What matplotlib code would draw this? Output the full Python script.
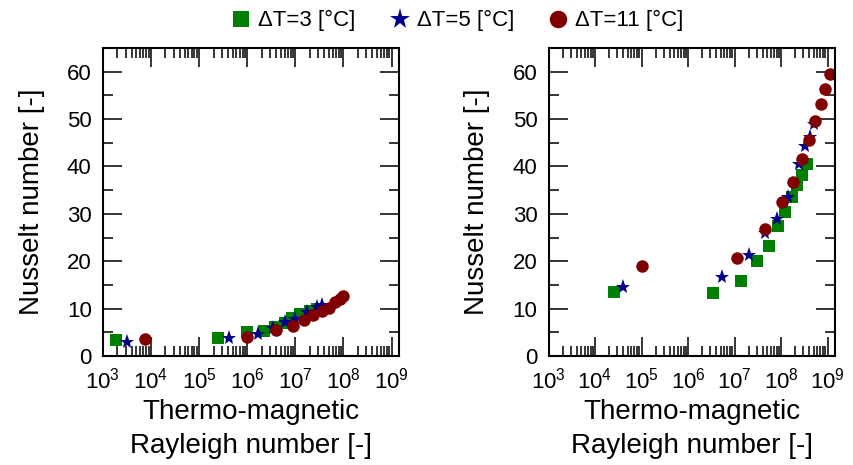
import matplotlib
matplotlib.use("Agg")
import matplotlib.pyplot as plt
from matplotlib.ticker import FixedLocator, MultipleLocator, NullFormatter

plt.rcParams["font.family"] = ["Liberation Sans", "DejaVu Sans"]

# log10(Ra) and Nu
left_dt3_logra = [3.27, 5.39, 5.99, 6.34, 6.58, 6.78, 6.93, 7.10, 7.31, 7.45]
left_dt3_nu = [3.4, 3.7, 5.1, 5.3, 6.1, 7.0, 8.1, 8.8, 9.5, 10.0]
left_dt5_logra = [3.50, 5.62, 6.22, 6.54, 6.79, 7.00, 7.24, 7.45, 7.55]
left_dt5_nu = [3.0, 3.7, 4.6, 6.0, 7.2, 7.9, 9.2, 10.3, 10.8]
left_dt11_logra = [3.88, 5.99, 6.60, 6.95, 7.19, 7.36, 7.55, 7.69, 7.83, 7.92, 8.00]
left_dt11_nu = [3.5, 4.1, 5.4, 6.3, 7.5, 8.6, 9.4, 10.2, 11.3, 12.0, 12.7]

right_dt3_logra = [4.41, 6.54, 7.14, 7.49, 7.74, 7.93, 8.09, 8.24, 8.35, 8.44, 8.55]
right_dt3_nu = [13.5, 13.4, 15.8, 20.0, 23.2, 27.5, 30.3, 33.5, 36.1, 38.3, 40.5]
right_dt5_logra = [4.61, 6.72, 7.32, 7.66, 7.91, 8.14, 8.39, 8.52, 8.62, 8.71]
right_dt5_nu = [14.6, 16.6, 21.3, 26.0, 28.9, 33.5, 40.5, 44.4, 46.2, 49.0]
right_dt11_logra = [5.00, 7.05, 7.66, 8.01, 8.25, 8.45, 8.61, 8.73, 8.85, 8.95, 9.05]
right_dt11_nu = [18.9, 20.6, 26.8, 32.6, 36.7, 41.5, 45.6, 49.5, 53.1, 56.4, 59.5]

labels = ["ΔT=3 [°C]", "ΔT=5 [°C]", "ΔT=11 [°C]"]
colors = ["#008000", "#00008B", "#800000"]
markers = ["s", "*", "o"]
sizes = [8, 11, 9]

decades = [10.0 ** k for k in range(3, 10)]
minor = [m * 10.0 ** k for k in range(3, 9) for m in range(2, 10)]

fig = plt.figure(figsize=(8.54, 4.65), dpi=100)
ax1 = fig.add_axes([0.1203, 0.2344, 0.3473, 0.6624])
ax2 = fig.add_axes([0.6423, 0.2344, 0.3355, 0.6624])

panels = [
    (ax1, [(left_dt3_logra, left_dt3_nu), (left_dt5_logra, left_dt5_nu), (left_dt11_logra, left_dt11_nu)]),
    (ax2, [(right_dt3_logra, right_dt3_nu), (right_dt5_logra, right_dt5_nu), (right_dt11_logra, right_dt11_nu)]),
]

for ax, series in panels:
    for (logra, nu), lab, c, m, s in zip(series, labels, colors, markers, sizes):
        ra = [10 ** v for v in logra]
        ax.plot(ra, nu, linestyle="none", marker=m, color=c, markersize=s,
                markeredgewidth=0, label=lab)
    ax.set_xscale("log")
    ax.set_xlim(1e3, 10 ** 9.16)
    ax.set_ylim(0, 65)
    ax.set_xticks(decades)
    ax.xaxis.set_minor_locator(FixedLocator(minor))
    ax.xaxis.set_minor_formatter(NullFormatter())
    ax.yaxis.set_major_locator(MultipleLocator(10))
    ax.yaxis.set_minor_locator(MultipleLocator(5))
    ax.tick_params(which="both", direction="in", top=True, right=True, labelsize=16, pad=8)
    ax.tick_params(which="major", length=14, width=1.1)
    ax.tick_params(which="minor", length=7, width=1.1)
    for sp in ax.spines.values():
        sp.set_linewidth(1.5)
    ax.set_xlabel("Thermo-magnetic\nRayleigh number [-]", fontsize=20, linespacing=1.4)
    ax.set_ylabel("Nusselt number [-]", fontsize=20, labelpad=16)

handles, labs = ax1.get_legend_handles_labels()
fig.legend(handles, labs, loc="center", bbox_to_anchor=(0.535, 0.955), ncol=3,
           frameon=False, fontsize=16, handletextpad=0.25, columnspacing=1.5,
           handlelength=1.0, markerscale=1.4)

fig.savefig("out.png", dpi=100)
